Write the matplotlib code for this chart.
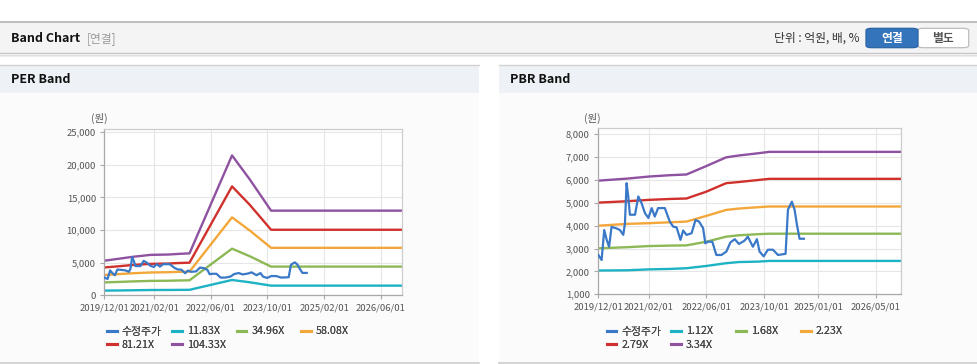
import matplotlib
matplotlib.use('Agg')
import matplotlib.pyplot as plt
from matplotlib.patches import Rectangle, FancyBboxPatch
from matplotlib.lines import Line2D
from matplotlib.ticker import FuncFormatter
import pandas as pd

plt.rcParams['font.family'] = ['Noto Sans CJK KR', 'DejaVu Sans']

# ---------------- data ----------------
price_dates = ['2019-12-01', '2019-12-29', '2020-01-20', '2020-02-10', '2020-03-01', '2020-03-22',
               '2020-05-03', '2020-06-01', '2020-06-29', '2020-07-13', '2020-07-27', '2020-08-10',
               '2020-08-24', '2020-10-06', '2020-11-03', '2020-12-01', '2020-12-29', '2021-01-27',
               '2021-02-24', '2021-03-22', '2021-04-19', '2021-06-15', '2021-07-27', '2021-08-24',
               '2021-09-22', '2021-10-25', '2021-11-17', '2021-12-15', '2022-01-27', '2022-03-01',
               '2022-03-31', '2022-05-04', '2022-05-23', '2022-06-15', '2022-07-21', '2022-08-24',
               '2022-10-06', '2022-11-17', '2022-12-21', '2023-01-27', '2023-03-03', '2023-04-20',
               '2023-05-17', '2023-06-29', '2023-08-02', '2023-08-24', '2023-09-28', '2023-11-03',
               '2023-12-15', '2024-01-27', '2024-03-31', '2024-04-20', '2024-05-23', '2024-06-15',
               '2024-07-05', '2024-07-27', '2024-09-02']
price_values = [2720, 2500, 3810, 3380, 3080, 3950, 3880, 3810, 3600, 4100, 5860, 5280,
                4480, 4480, 5280, 4980, 4550, 4340, 4770, 4400, 4770, 4770, 4180, 3960,
                3930, 3380, 3790, 3600, 3670, 4250, 4180, 3900, 3230, 3300, 3300, 2720,
                2720, 2870, 3270, 3410, 3200, 3350, 3520, 3080, 3410, 2870, 2660, 2950,
                2950, 2720, 2770, 4700, 5050, 4700, 4040, 3430, 3430]

per_band_dates = ['2019-12-01', '2020-04-01', '2020-08-01', '2021-01-01', '2021-06-01', '2021-09-01',
                  '2021-12-01', '2022-12-01', '2023-05-01', '2023-11-01', '2026-12-01']
per_11_83 = [720, 740, 770, 810, 820, 830, 840, 2350, 2000, 1480, 1480]
per_34_96 = [1980, 2050, 2130, 2210, 2230, 2270, 2300, 7150, 6000, 4400, 4400]
per_58_08 = [3110, 3250, 3380, 3500, 3540, 3600, 3630, 11950, 9950, 7280, 7280]
per_81_21 = [4270, 4450, 4650, 4820, 4870, 4950, 5000, 16700, 13900, 10050, 10050]
per_104_33 = [5300, 5600, 5900, 6200, 6250, 6350, 6430, 21450, 17800, 12980, 12980]

pbr_band_dates = ['2019-12-01', '2020-08-01', '2021-02-01', '2021-08-01', '2021-12-15', '2022-06-01',
                  '2022-11-15', '2023-03-01', '2023-08-15', '2023-11-15', '2026-12-01']
pbr_1_12 = [2040, 2050, 2090, 2110, 2140, 2240, 2360, 2410, 2430, 2460, 2460]
pbr_1_68 = [3010, 3060, 3110, 3130, 3140, 3300, 3520, 3580, 3630, 3650, 3650]
pbr_2_23 = [4000, 4080, 4110, 4150, 4180, 4430, 4690, 4750, 4810, 4840, 4840]
pbr_2_79 = [5010, 5070, 5130, 5170, 5190, 5490, 5860, 5910, 6000, 6050, 6050]
pbr_3_34 = [5970, 6060, 6150, 6210, 6240, 6610, 6990, 7070, 7170, 7230, 7230]

per_labels = ['수정주가', '11.83X', '34.96X', '58.08X', '81.21X', '104.33X']
pbr_labels = ['수정주가', '1.12X', '1.68X', '2.23X', '2.79X', '3.34X']

per_xticks = ['2019-12-01', '2021-02-01', '2022-06-01', '2023-10-01', '2025-02-01', '2026-06-01']
pbr_xticks = ['2019-12-01', '2021-02-01', '2022-06-01', '2023-10-01', '2025-01-01', '2026-05-01']
per_yticks = [0, 5000, 10000, 15000, 20000, 25000]
pbr_yticks = [1000, 2000, 3000, 4000, 5000, 6000, 7000, 8000]

colors = ['#3a78c8', '#1db2c4', '#8cb855', '#f3a73a', '#d0312d', '#8e52a0']

# ---------------- figure ----------------
W, H = 978, 364
fig = plt.figure(figsize=(W / 100, H / 100), dpi=100)
fig.patch.set_facecolor('white')


def fx(x):
    return x / W


def fy(y):
    return 1 - y / H


def rect(x0, y0, x1, y1, **kw):
    fig.add_artist(Rectangle((fx(x0), fy(y1)), fx(x1) - fx(x0), fy(y0) - fy(y1),
                             transform=fig.transFigure, zorder=-10, **kw))


def hline(x0, x1, y, color, lw=1.0):
    fig.add_artist(Line2D([fx(x0), fx(x1)], [fy(y), fy(y)], color=color, lw=lw,
                          transform=fig.transFigure, zorder=-9))


# top header
rect(0, 22, 978, 53, fc='#f4f4f4', ec='none')
hline(0, 978, 22.2, '#b4b4b4', 1.2)
hline(0, 978, 53.3, '#c4c4c4', 0.9)
hline(0, 978, 54.5, '#dddddd', 0.9)
hline(0, 978, 55.6, '#eeeeee', 0.9)

fig.text(fx(11), fy(38.5), 'Band Chart', fontsize=9, fontweight='bold', va='center', color='#111111')
fig.text(fx(87), fy(38.5), '[연결]', fontsize=8.5, va='center', color='#9a9a9a')
fig.text(fx(860), fy(38.5), '단위 : 억원, 배, %', fontsize=8.5, va='center', ha='right', color='#333333')

# buttons
fig.add_artist(FancyBboxPatch((fx(917.5), fy(47.7)), fx(968.7) - fx(917.5), fy(28.3) - fy(47.7),
                              boxstyle='round,pad=0,rounding_size=0.006', transform=fig.transFigure,
                              fc='white', ec='#bdbdbd', lw=0.9))
fig.add_artist(FancyBboxPatch((fx(866), fy(47.7)), fx(918) - fx(866), fy(28.3) - fy(47.7),
                              boxstyle='round,pad=0,rounding_size=0.006', transform=fig.transFigure,
                              fc='#3374bb', ec='#2a64a4', lw=0.9))
fig.text(fx(892), fy(38.3), '연결', fontsize=8.5, fontweight='bold', color='white', ha='center', va='center')
fig.text(fx(943), fy(38.3), '별도', fontsize=8.5, fontweight='bold', color='#555555', ha='center', va='center')

# panels
for x0, x1, title, tx in [(0, 479, 'PER Band', 11), (499, 978, 'PBR Band', 510)]:
    rect(x0, 64.5, x1, 93, fc='#eef2f7', ec='none')
    hline(x0, x1, 64.5, '#d2d2d2', 1.0)
    rect(x0, 93, x1, 362, fc='#fbfbfb', ec='none')
    hline(x0, x1, 362.5, '#cccccc', 1.2)
    fig.text(fx(tx), fy(79.5), title, fontsize=9, fontweight='bold', va='center', color='#111111')

# axes
ax1 = fig.add_axes([fx(104.3), fy(295.3), (402.3 - 104.3) / W, (295.3 - 129) / H])
ax2 = fig.add_axes([fx(598.3), fy(294.3), (901 - 598.3) / W, (294.3 - 128.3) / H])

fmt = FuncFormatter(lambda v, p: f'{int(v):,}')


def style(ax, xticks, yticks, ylim):
    ax.set_facecolor('white')
    ax.set_xlim(pd.Timestamp('2019-12-01'), pd.Timestamp('2026-12-01'))
    ax.set_ylim(*ylim)
    ax.set_xticks([pd.Timestamp(d) for d in xticks])
    ax.set_xticklabels([d.replace('-', '/') for d in xticks])
    ax.set_yticks(yticks)
    ax.yaxis.set_major_formatter(fmt)
    ax.grid(True, color='#e6e6e6', lw=0.8)
    ax.set_axisbelow(True)
    for s in ['left', 'bottom']:
        ax.spines[s].set_color('#a8a8a8')
    for s in ['top', 'right']:
        ax.spines[s].set_color('#cccccc')
    for s in ax.spines.values():
        s.set_linewidth(0.9)
    ax.tick_params(axis='both', length=3, width=0.8, color='#a8a8a8', labelsize=6.8,
                   labelcolor='#555555', pad=3)


style(ax1, per_xticks, per_yticks, (0, 25500))
style(ax2, pbr_xticks, pbr_yticks, (1000, 8260))

pd_price = pd.to_datetime(price_dates)
per_d = pd.to_datetime(per_band_dates)
pbr_d = pd.to_datetime(pbr_band_dates)

per_series = [per_11_83, per_34_96, per_58_08, per_81_21, per_104_33]
pbr_series = [pbr_1_12, pbr_1_68, pbr_2_23, pbr_2_79, pbr_3_34]

for ax, d, series in [(ax1, per_d, per_series), (ax2, pbr_d, pbr_series)]:
    for s, c in zip(series, colors[1:]):
        ax.plot(d, s, color=c, lw=1.7, solid_joinstyle='round')
    ax.plot(pd_price, price_values, color=colors[0], lw=1.6, solid_joinstyle='round', zorder=5)

fig.text(fx(99.3), fy(118), '(원)', fontsize=7.5, color='#555555', ha='center', va='center')
fig.text(fx(592.5), fy(118), '(원)', fontsize=7.5, color='#555555', ha='center', va='center')


# legends: columns of fixed width
def legend_cols(labels, x_start):
    cols = [[0, 4], [1, 5], [2], [3]]
    for ci, idx in enumerate(cols):
        handles = [Line2D([], [], color=colors[i], lw=2.2) for i in idx]
        lg = fig.legend(handles, [labels[i] for i in idx], loc='upper left',
                        bbox_to_anchor=(fx(x_start + 64.7 * ci), fy(326.5)),
                        frameon=False, fontsize=7.8, handlelength=0.9, handletextpad=0.45,
                        borderpad=0, borderaxespad=0, labelspacing=0.32, labelcolor='#444444')
        fig.add_artist(lg)


legend_cols(per_labels, 107.3)
legend_cols(pbr_labels, 606.7)

fig.savefig('out.png', dpi=100, facecolor='white')
